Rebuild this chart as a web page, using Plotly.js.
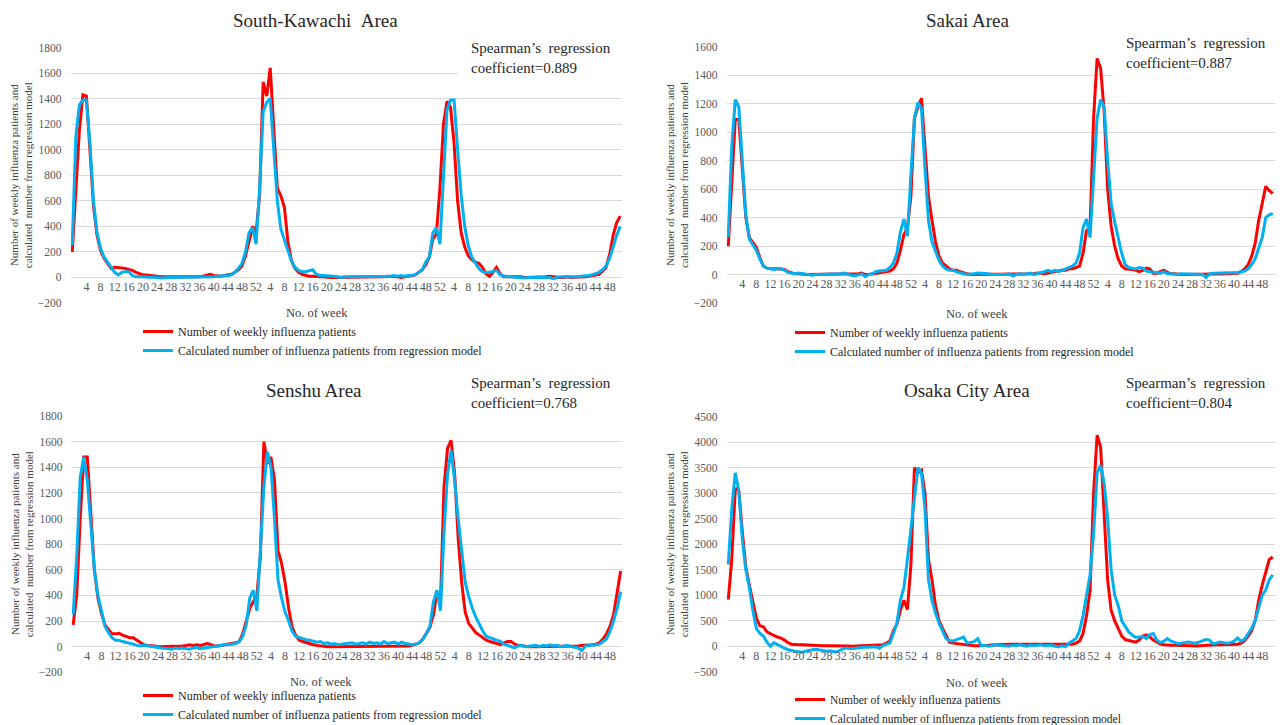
<!DOCTYPE html>
<html>
<head>
<meta charset="utf-8">
<script src="https://cdn.plot.ly/plotly-3.0.1.min.js"></script>
<style>
html,body{margin:0;padding:0;background:#ffffff;}
#chart{width:1286px;height:725px;}
</style>
</head>
<body>
<div id="chart"></div>
<script>
// ---------------- DATA ----------------
// week tick labels shown on each x axis (three seasons, 52 weeks each)
const weekTicksYear1 = [4,8,12,16,20,24,28,32,36,40,44,48,52];
const weekTicksYear2 = [4,8,12,16,20,24,28,32,36,40,44,48,52];
const weekTicksYear3 = [4,8,12,16,20,24,28,32,36,40,44,48];

// South-Kawachi Area (156 weekly values)
const skActual = [
 200,650,1150,1430,1420,1000,560,330,210,150,
 110,70,80,80,75,70,65,55,40,30,
 20,20,15,15,10,5,5,5,0,0,
 0,0,0,0,5,0,5,10,20,25,
 15,10,10,15,20,25,40,60,90,170,
 280,400,350,650,1530,1420,1640,1200,700,640,
 550,280,130,70,40,25,15,10,10,5,
 5,5,0,0,0,0,0,0,0,0,
 5,0,0,0,5,0,0,0,5,10,
 10,5,5,0,5,10,10,20,40,60,
 100,160,300,340,700,1200,1380,1330,1050,600,
 350,240,170,140,120,110,80,30,10,40,
 80,30,5,5,10,10,5,5,0,0,
 0,5,0,0,5,10,5,0,0,0,
 5,0,0,5,5,5,10,15,20,25,
 50,80,180,330,430,480];
const skModel = [
 255,1100,1350,1390,1390,1050,600,350,230,160,
 120,80,40,20,40,45,45,15,5,5,
 5,0,5,0,0,-5,0,0,0,0,
 0,0,0,0,0,5,5,5,0,5,
 5,10,10,15,15,20,40,70,110,200,
 350,390,260,700,1300,1370,1400,1000,600,380,
 290,210,130,80,55,45,45,50,60,25,
 15,15,15,10,10,5,0,5,5,5,
 5,10,5,5,10,5,5,10,5,5,
 10,15,10,15,10,15,15,20,40,60,
 120,160,350,390,260,800,1310,1390,1390,1000,
 650,400,250,160,120,70,45,38,40,50,
 55,20,10,5,5,0,0,0,-5,0,
 0,0,0,0,5,0,-10,0,5,5,
 5,0,5,5,10,10,15,20,30,40,
 60,90,150,250,330,400];

// Sakai Area
const saActual = [
 200,620,1090,1090,760,400,260,220,190,120,
 60,45,40,40,40,40,35,20,10,5,
 5,0,0,0,0,0,0,0,0,0,
 0,0,5,5,0,0,5,5,10,0,
 0,5,10,10,15,20,25,40,80,170,
 280,330,550,1100,1180,1240,900,550,380,230,
 130,80,60,40,30,30,20,10,5,0,
 0,0,0,0,0,0,5,5,0,0,
 0,5,0,5,5,0,0,5,10,5,
 5,10,15,25,30,30,30,40,40,50,
 60,150,310,330,1100,1520,1450,1150,600,340,
 200,110,60,40,40,35,30,20,30,45,
 40,10,10,20,30,15,5,5,0,0,
 0,0,0,0,0,0,0,0,0,0,
 0,0,0,5,10,10,20,40,70,130,
 220,380,500,620,590,570];
const saModel = [
 265,900,1230,1180,800,420,250,210,170,110,
 60,45,40,35,40,40,30,15,10,5,
 10,5,5,0,-5,0,0,0,5,0,
 5,0,5,10,0,-5,-10,0,5,-15,
 0,5,20,25,25,30,50,80,150,300,
 390,270,700,1100,1210,1170,750,380,230,160,
 100,60,40,30,30,20,10,5,0,0,
 5,10,10,5,5,0,0,-5,-5,0,
 5,-10,0,5,0,5,10,0,5,10,
 20,30,20,30,20,30,40,50,60,80,
 150,330,390,260,700,1100,1230,1180,800,500,
 370,250,150,70,50,45,40,50,45,25,
 20,15,10,10,20,5,5,0,0,5,
 5,5,0,0,5,0,-20,5,10,10,
 10,10,10,10,10,15,20,25,40,70,
 110,180,260,400,420,430];

// Senshu Area
const seActual = [
 170,400,1000,1480,1480,1000,600,380,260,170,
 130,100,100,105,90,80,70,70,50,30,
 15,10,10,5,0,0,0,0,0,5,
 0,5,10,15,10,15,10,15,25,15,
 5,5,10,15,20,20,30,40,100,200,
 300,350,400,700,1600,1430,1480,1300,750,650,
 500,300,150,90,50,40,30,25,15,10,
 5,5,0,0,0,0,0,5,0,0,
 0,0,0,0,0,5,0,0,0,5,
 0,0,0,0,0,5,10,20,30,60,
 100,150,250,420,350,1250,1550,1610,1350,850,
 500,270,180,140,110,90,70,50,40,30,
 20,15,30,40,40,20,10,5,0,0,
 0,0,5,0,0,5,0,0,0,5,
 0,0,5,5,10,10,15,15,20,30,
 60,100,160,250,420,590];
const seModel = [
 250,700,1320,1480,1300,950,600,400,270,160,
 110,70,50,50,40,35,30,20,10,5,
 10,5,0,0,-5,-10,-12,-15,-20,-10,
 -15,-10,-15,-20,-10,-5,-15,-10,-5,0,
 0,5,10,15,15,20,25,40,80,170,
 380,440,280,750,1250,1520,1400,1000,520,380,
 270,200,120,80,70,60,55,50,40,35,
 40,25,30,20,25,15,20,25,30,30,
 20,25,30,20,35,25,30,20,40,25,
 30,35,20,35,25,20,15,20,30,60,
 100,160,350,440,280,900,1350,1530,1300,1000,
 750,500,390,300,230,170,120,80,70,55,
 50,40,20,10,0,-10,5,10,0,5,
 5,10,0,10,5,15,5,10,0,5,
 10,0,-5,-10,-30,5,10,10,15,20,
 40,60,120,200,300,430];

// Osaka City Area
const ocActual = [
 914,1700,3100,3050,2250,1550,1200,850,550,400,
 380,280,240,210,180,160,120,70,40,30,
 30,30,25,20,15,10,10,10,10,10,
 15,15,10,10,5,0,5,10,15,15,
 20,20,20,25,30,60,100,300,430,700,
 900,720,1600,3500,3400,3450,3000,1700,1300,800,
 500,350,200,80,60,50,40,40,30,20,
 10,10,10,15,20,25,30,30,35,35,
 40,40,35,40,40,35,40,40,40,40,
 35,40,40,40,35,30,30,30,40,60,
 100,250,600,1100,3000,4140,3900,2600,1300,700,
 500,350,200,130,110,100,80,120,200,220,
 180,120,80,40,30,20,20,20,20,15,
 15,10,10,5,10,15,20,30,30,30,
 30,30,30,30,40,40,60,110,200,300,
 500,900,1200,1450,1700,1750];
const ocModel = [
 1600,2700,3400,3050,2100,1500,1150,700,350,250,
 200,80,0,70,30,-10,-40,-70,-90,-100,
 -110,-120,-100,-80,-70,-60,-70,-80,-100,-90,
 -110,-110,-80,-40,-40,-50,-40,-30,-30,-20,
 -20,-10,-10,-40,10,40,60,250,450,900,
 1150,1700,2300,3000,3500,3400,2700,1300,900,650,
 450,300,150,110,100,130,150,180,60,80,
 90,150,10,20,0,10,30,20,15,10,
 0,20,10,30,20,0,20,10,20,30,
 10,10,20,0,-10,10,-10,60,100,150,
 300,600,1000,1400,2200,3400,3550,3200,2500,1500,
 1000,800,500,380,280,220,170,180,190,150,
 230,250,120,70,100,150,100,80,50,60,
 70,80,70,60,80,100,130,120,50,60,
 80,70,60,70,100,160,100,140,250,350,
 500,750,1000,1100,1300,1400];

const seriesNames = ['Number of weekly influenza patients',
                     'Calculated number of influenza patients from regression model'];
const areaTitles = ['South-Kawachi\u00a0\u00a0Area','Sakai Area','Senshu Area','Osaka City Area'];
const coefficients = ['0.889','0.887','0.768','0.804'];
const yTitle = 'Number of weekly influenza patients and<br>calculated\u00a0\u00a0number from regression model';

// ---------------- LAYOUT HELPERS ----------------
const FONT = 'Liberation Serif, Times New Roman, serif';
const W = 1286, H = 725;
const fx = x => x / W;
const fy = y => 1 - y / H;

const panels = [
  {actual: skActual, model: skModel, yRange: [-200,1800], dtick: 200,
   box: {l:70.5, r:622, t:47.5, b:303}, zeroY: 277.5,
   titlePos: {x:315, y:20}, coefPos: {x:469, y:58}, cover: {l:458, r:628, t:30, b:86},
   legendPos: {x:138, y:317}, legendFont: 12, xTitle: {x:317, y:313}},
  {actual: saActual, model: saModel, yRange: [-200,1600], dtick: 200,
   box: {l:726.5, r:1274.5, t:47, b:303}, zeroY: 274.6,
   titlePos: {x:967, y:20}, coefPos: {x:1124, y:53}, cover: {l:1113, r:1280, t:30, b:90},
   legendPos: {x:790, y:318}, legendFont: 12, xTitle: {x:977, y:314}},
  {actual: seActual, model: seModel, yRange: [-200,1800], dtick: 200,
   box: {l:71.4, r:622.4, t:416, b:672.3}, zeroY: 647,
   titlePos: {x:314, y:390}, coefPos: {x:469, y:393}, cover: null,
   legendPos: {x:138, y:681}, legendFont: 12, xTitle: {x:321, y:682}},
  {actual: ocActual, model: ocModel, yRange: [-500,4500], dtick: 500,
   box: {l:726.5, r:1274.5, t:416.7, b:671.7}, zeroY: 646.7,
   titlePos: {x:967, y:390}, coefPos: {x:1124, y:393}, cover: null,
   legendPos: {x:790, y:685}, legendFont: 11.5, xTitle: {x:977, y:683}}
];

// tick positions derived from the week labels (52 weeks per season)
const tickLabels = [...weekTicksYear1, ...weekTicksYear2, ...weekTicksYear3];
const tickVals = [
  ...weekTicksYear1.map(w => w),
  ...weekTicksYear2.map(w => 52 + w),
  ...weekTicksYear3.map(w => 104 + w)
];

const traces = [];
const layout = {
  width: W, height: H,
  margin: {l:0, r:0, t:0, b:0, autoexpand: false},
  paper_bgcolor: '#ffffff',
  plot_bgcolor: '#ffffff',
  font: {family: FONT, color: '#404040'},
  showlegend: true,
  annotations: [],
  shapes: []
};

panels.forEach((p, k) => {
  const n = k + 1;
  const xa = n === 1 ? 'x' : 'x' + n;
  const ya = n === 1 ? 'y' : 'y' + n;
  const xkey = n === 1 ? 'xaxis' : 'xaxis' + n;
  const ykey = n === 1 ? 'yaxis' : 'yaxis' + n;
  const lkey = n === 1 ? 'legend' : 'legend' + n;
  const idx = p.actual.map((_, i) => i);

  traces.push({
    type: 'scatter', mode: 'lines', x: idx, y: p.actual,
    xaxis: xa, yaxis: ya, name: seriesNames[0],
    line: {color: '#ff0000', width: 3}, legend: lkey,
    hoverinfo: 'skip'
  });
  traces.push({
    type: 'scatter', mode: 'lines', x: idx, y: p.model,
    xaxis: xa, yaxis: ya, name: seriesNames[1],
    line: {color: '#00b0f0', width: 3}, legend: lkey,
    hoverinfo: 'skip'
  });

  layout[xkey] = {
    domain: [fx(p.box.l), fx(p.box.r)],
    range: [-0.5, 155.5],
    anchor: 'free', position: fy(p.zeroY),
    tickmode: 'array', tickvals: tickVals, ticktext: tickLabels.map(String),
    tickangle: 0, ticks: '', showgrid: false, zeroline: false, showline: false,
    tickfont: {family: FONT, size: 12, color: '#595959'},
    automargin: false, fixedrange: true
  };
  layout[ykey] = {
    domain: [fy(p.box.b), fy(p.box.t)],
    range: p.yRange, dtick: p.dtick, tick0: 0,
    anchor: xa, showgrid: true, gridcolor: '#d9d9d9', gridwidth: 1,
    zeroline: false, showline: false, ticks: '',
    ticklabelstandoff: 8,
    tickfont: {family: FONT, size: 11.5, color: '#595959'},
    title: {text: yTitle, font: {family: FONT, size: 11, color: '#404040'}, standoff: 2},
    automargin: false, fixedrange: true
  };
  layout[lkey] = {
    x: fx(p.legendPos.x), y: fy(p.legendPos.y), xanchor: 'left', yanchor: 'top',
    bgcolor: 'rgba(0,0,0,0)', borderwidth: 0,
    font: {family: FONT, size: p.legendFont, color: '#262626'},
    itemwidth: 30, tracegroupgap: 0, orientation: 'v'
  };

  // area title
  layout.annotations.push({
    xref: 'paper', yref: 'paper', x: fx(p.titlePos.x), y: fy(p.titlePos.y),
    xanchor: 'center', yanchor: 'middle', showarrow: false,
    text: areaTitles[k], font: {family: FONT, size: 19, color: '#262626'}
  });
  // x axis title
  layout.annotations.push({
    xref: 'paper', yref: 'paper', x: fx(p.xTitle.x), y: fy(p.xTitle.y),
    xanchor: 'center', yanchor: 'middle', showarrow: false,
    text: 'No. of week', font: {family: FONT, size: 12.5, color: '#404040'}
  });
  // white box that hides the gridlines behind the coefficient text
  if (p.cover) {
    layout.shapes.push({
      type: 'rect', xref: 'paper', yref: 'paper', layer: 'above',
      x0: fx(p.cover.l), x1: fx(p.cover.r), y0: fy(p.cover.b), y1: fy(p.cover.t),
      fillcolor: '#ffffff', line: {width: 0}
    });
  }
  // Spearman coefficient
  layout.annotations.push({
    xref: 'paper', yref: 'paper', x: fx(p.coefPos.x), y: fy(p.coefPos.y),
    xanchor: 'left', yanchor: 'middle', align: 'left', showarrow: false,
    text: 'Spearman\u2019s\u00a0\u00a0regression<br>coefficient=' + coefficients[k],
    font: {family: FONT, size: 15, color: '#262626'}
  });
});

Plotly.newPlot('chart', traces, layout, {displayModeBar: false, staticPlot: true});
</script>
</body>
</html>
